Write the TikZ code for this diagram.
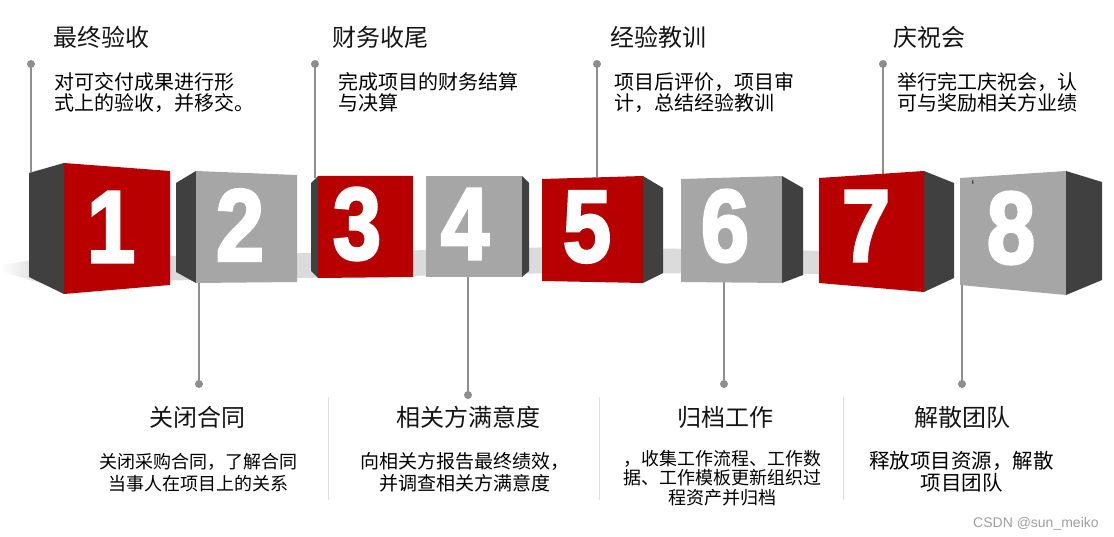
\documentclass[tikz,border=0pt]{standalone}
\usepackage{fontspec}
\usepackage{tikz}
\usetikzlibrary{calc,positioning}
\setmainfont{Liberation Sans}
\newfontfamily\cjk{Noto Sans CJK SC}
\newfontfamily\numfont{Liberation Sans Bold}[FakeBold=3]
\definecolor{CubeRed}{HTML}{B80000}
\definecolor{CubeGrey}{HTML}{A6A6A6}
\definecolor{CubeDark}{HTML}{404040}
\definecolor{StemGrey}{HTML}{8E8E8E}
\definecolor{SepGrey}{HTML}{DDDDDD}
\tikzset{
  cube/red/.style={fill=CubeRed},
  cube/grey/.style={fill=CubeGrey},
  cube/side/.style={fill=CubeDark},
  cube/floor/.style={fill=black!14},
  cube/digit/.style={text=white, inner sep=0pt, font=\numfont\fontsize{102}{102}\selectfont},
  call/title/.style={inner sep=0pt, text=black!92, font=\cjk\fontsize{24}{28}\selectfont},
  call/desc/.style={inner sep=0pt, text=black, align=left, font=\cjk\fontsize{20}{21.5}\selectfont},
  call/descc/.style={call/desc, align=center},
  call/stem/.style={draw=StemGrey, line width=1.3pt},
  call/dot/.style={circle, fill=StemGrey, inner sep=0pt, minimum size=8pt},
  call/sep/.style={draw=SepGrey, line width=1pt},
  call/credit/.style={inner sep=0pt, text=black!38, font=\fontsize{14}{14}\selectfont}
}
\begin{document}
\begin{tikzpicture}[x=1pt, y=-1pt]
  \useasboundingbox (0,0) rectangle (1114,537);

  % floor shadow
  \shade[left color=white, right color=black!14] (0,265) -- (40,259) -- (40,283) -- (0,271) -- cycle;
  \fill[cube/floor] (40,259) -- (560,247) -- (830,251) -- (830,274) -- (560,273) -- (40,283) -- cycle;

  % callout anchors on the cubes
  \coordinate (k1) at (31,172);
  \coordinate (k2) at (199,283);
  \coordinate (k3) at (315,178);
  \coordinate (k4) at (468,277);
  \coordinate (k5) at (597,177);
  \coordinate (k6) at (724,282);
  \coordinate (k7) at (883,174);
  \coordinate (k8) at (962,285);

  \node[call/dot] (t1) at (31,64) {};
  \node[call/dot] (t3) at (315,64) {};
  \node[call/dot] (t5) at (597,64) {};
  \node[call/dot] (t7) at (883,64) {};
  \node[call/dot] (b2) at (199,384) {};
  \node[call/dot] (b4) at (468,395) {};
  \node[call/dot] (b6) at (724,384) {};
  \node[call/dot] (b8) at (962,384) {};

  \draw[call/stem] (t1.center) -- (k1);
  \draw[call/stem] (t3.center) -- (k3);
  \draw[call/stem] (t5.center) -- (k5);
  \draw[call/stem] (t7.center) -- (k7);
  \draw[call/stem] (k2) -- (b2.center);
  \draw[call/stem] (k4) -- (b4.center);
  \draw[call/stem] (k6) -- (b6.center);
  \draw[call/stem] (k8) -- (b8.center);

  % cubes
  \fill[cube/side] (29,173) -- (64,163) -- (64,294) -- (29,277) -- cycle;
  \fill[cube/red] (64,163) -- (170,171) -- (170,285) -- (64,294) -- cycle;
  \fill[cube/side] (176,183) -- (196,171) -- (196,283) -- (176,272) -- cycle;
  \fill[cube/grey] (196,171) -- (297,175) -- (297,282) -- (196,283) -- cycle;
  \fill[cube/side] (311,183) -- (318,176) -- (318,278) -- (311,271) -- cycle;
  \fill[cube/red] (318,176) -- (413,176) -- (413,277) -- (318,278) -- cycle;
  \fill[cube/grey] (426,176) -- (522,176) -- (522,277) -- (426,277) -- cycle;
  \fill[cube/side] (522,176) -- (529,183) -- (529,271) -- (522,277) -- cycle;
  \fill[cube/red] (542,179) -- (643,176) -- (643,283) -- (542,281) -- cycle;
  \fill[cube/side] (643,176) -- (663,188) -- (663,273) -- (643,283) -- cycle;
  \fill[cube/grey] (681,179) -- (782,176) -- (782,283) -- (681,282) -- cycle;
  \fill[cube/side] (782,176) -- (803,188) -- (803,275) -- (782,283) -- cycle;
  \fill[cube/red] (819,178) -- (924,171) -- (924,292) -- (819,283) -- cycle;
  \fill[cube/side] (924,171) -- (954,183) -- (954,278) -- (924,292) -- cycle;
  \fill[cube/grey] (960,178) -- (1066,171) -- (1066,295) -- (960,285) -- cycle;
  \fill[cube/side] (1066,171) -- (1102,182) -- (1102,280) -- (1066,295) -- cycle;

  \node[cube/digit] (n1) at (111,227) {\scalebox{0.85}[1]{1}};
  \node[cube/digit] (n2) at (240,225) {\scalebox{0.85}[1]{2}};
  \node[cube/digit] (n3) at (357,224) {\scalebox{0.85}[1]{3}};
  \node[cube/digit] (n4) at (465,224) {\scalebox{0.85}[1]{4}};
  \node[cube/digit] (n5) at (587,227) {\scalebox{0.85}[1]{5}};
  \node[cube/digit] (n6) at (725,226) {\scalebox{0.85}[1]{6}};
  \node[cube/digit] (n7) at (866,226) {\scalebox{0.85}[1]{7}};
  \node[cube/digit] (n8) at (1011,228) {\scalebox{0.85}[1]{8}};
  \node[inner sep=0pt, text=black!80, font=\fontsize{16}{16}\selectfont] (tick) at (973,186) {\symbol{96}};

  % upper callouts
  \node[call/title, anchor=base west] (h1) at (53,46.6) {最终验收};
  \node[call/desc, anchor=base west] (d1) at (54,110.6) {对可交付成果进行形\\式上的验收，并移交。};
  \node[call/title, anchor=base west] (h3) at (332,46.6) {财务收尾};
  \node[call/desc, anchor=base west] (d3) at (338,110.6) {完成项目的财务结算\\与决算};
  \node[call/title, anchor=base west] (h5) at (610,46.6) {经验教训};
  \node[call/desc, anchor=base west] (d5) at (614,110.6) {项目后评价，项目审\\计，总结经验教训};
  \node[call/title, anchor=base west] (h7) at (893,46.6) {庆祝会};
  \node[call/desc, anchor=base west] (d7) at (897,110.6) {举行完工庆祝会，认\\可与奖励相关方业绩};

  % lower callouts
  \draw[call/sep] (328,397) -- (328,500);
  \draw[call/sep] (599,397) -- (599,500);
  \draw[call/sep] (843,397) -- (843,500);

  \node[call/title, anchor=base] (h2) at (197.5,426.6) {关闭合同};
  \node[call/descc, anchor=base, font=\cjk\fontsize{18}{22}\selectfont] (d2) at (198.5,490) {关闭采购合同，了解合同\\当事人在项目上的关系};
  \node[call/title, anchor=base] (h4) at (468,426.6) {相关方满意度};
  \node[call/descc, anchor=base, font=\cjk\fontsize{19}{22}\selectfont] (d4) at (465,490) {向相关方报告最终绩效，\\并调查相关方满意度};
  \node[call/title, anchor=base] (h6) at (725,426.6) {归档工作};
  \node[call/descc, anchor=base, font=\cjk\fontsize{18}{19.5}\selectfont] (d6) at (722.5,504.3) {，收集工作流程、工作数\\据、工作模板更新组织过\\程资产并归档};
  \node[call/title, anchor=base] (h8) at (962.5,426.6) {解散团队};
  \node[call/descc, anchor=base, font=\cjk\fontsize{20.5}{22}\selectfont] (d8) at (961.5,490.8) {释放项目资源，解散\\项目团队};

  \node[call/credit, anchor=base west] (credit) at (973,527) {CSDN @sun\_meiko};
\end{tikzpicture}
\end{document}
